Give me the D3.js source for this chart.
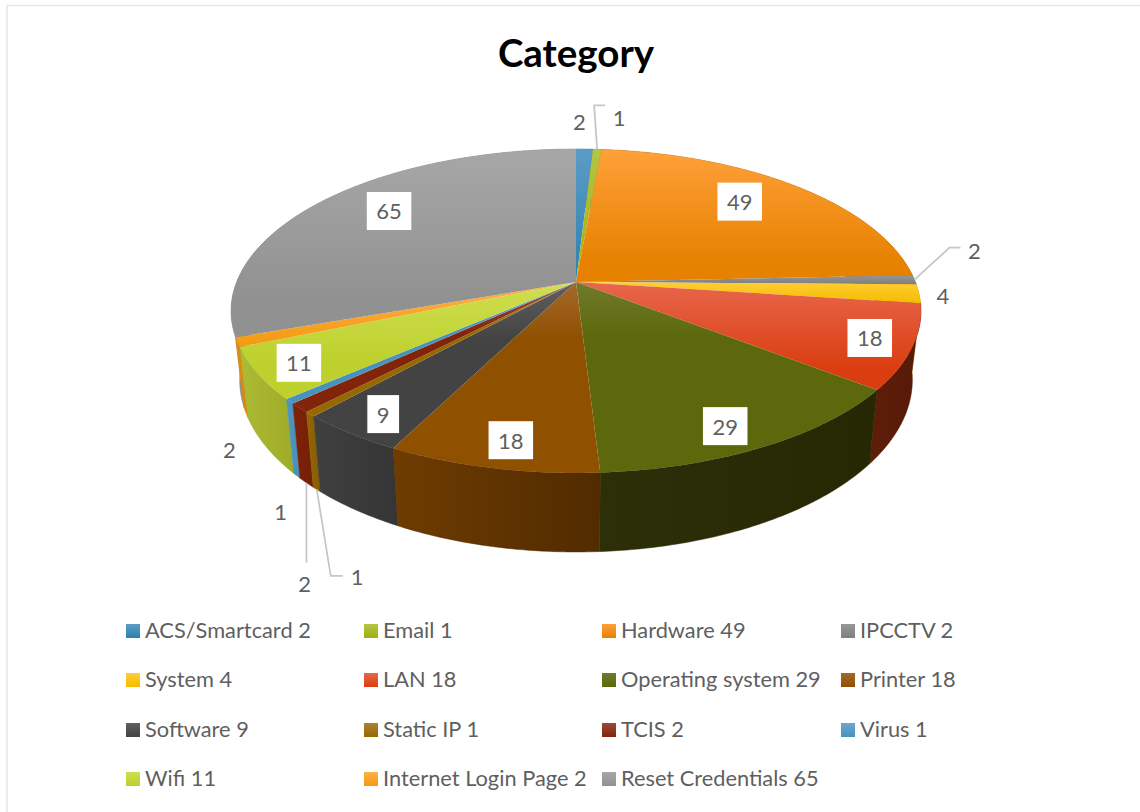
<!DOCTYPE html>
<html lang="en">

<head>
	<meta charset="utf-8">
	<title>Category</title>
	<script src="https://cdnjs.cloudflare.com/ajax/libs/d3/7.8.5/d3.min.js"></script>
	<style>
		html, body { margin: 0; padding: 0; background: #fff; }
		text { font-family: Lato, "Open Sans", sans-serif; fill: #5f5f5f; }
	</style>
</head>

<body>
	<svg id="chart" width="1140" height="812" style="display:block"></svg>
	<script>
		const categories = ["ACS/Smartcard", "Email", "Hardware", "IPCCTV", "System", "LAN", "Operating system", "Printer",
			"Software", "Static IP", "TCIS", "Virus", "Wifi", "Internet Login Page", "Reset Credentials"];
		const counts = [2, 1, 49, 2, 4, 18, 29, 18, 9, 1, 2, 1, 11, 2, 65];

		// top face gradient, light to base
		const faceLight = ["#5a9cc5", "#b4c444", "#ffa03a", "#979797", "#ffcd33", "#e8674c", "#707a2c", "#a6682c",
			"#606060", "#ab8232", "#9c4c3a", "#6aa9d0", "#cfdf50", "#ffb048", "#a7a7a7"];
		const faceBase = ["#2f80b0", "#9fb016", "#e68200", "#7e7e7e", "#f4bc00", "#da3e10", "#5c680b", "#8f5100",
			"#434343", "#966800", "#82240a", "#4892be", "#bdd02c", "#f29a10", "#919191"];
		// how far down each face the gradient has reached its base colour
		const faceStop = [1, 1, 0.85, 1, 1, 0.8, 0.3, 0.3, 0.35, 0.4, 0.4, 0.4, 0.7, 1, 0.8];
		// side wall, left to right
		const wallLeft = ["#2b7099", "#8f9c1c", "#b96a00", "#666666", "#c49800", "#5e1d09", "#2c2f08", "#6e3c00",
			"#404040", "#946700", "#7e2208", "#4f97c0", "#acba36", "#e58d10", "#8c8c8c"];
		const wallRight = ["#2b7099", "#8f9c1c", "#b96a00", "#666666", "#c49800", "#561a07", "#262804", "#512b00",
			"#353535", "#855c00", "#761f07", "#4a90b8", "#a0ac28", "#d98508", "#848484"];

		// label placing: radius fraction and angle shift (degrees) for inside labels, offset from the rim for outside ones
		const insideRadius = { 2: 0.775, 5: 0.88, 6: 0.875, 7: 0.87, 8: 0.883, 12: 0.884, 14: 0.776 };
		const insideShift = { 2: -3, 5: -0.3, 6: 2.2, 7: -1, 8: -0.5, 12: -0.3, 14: 4.1 };
		const outsideOffset = { 0: [-5, -28], 1: [22, -32], 3: [60, -29], 4: [24, 2], 9: [47, 162], 10: [5, 176], 11: [-9, 110], 13: [-8, 107] };
		const leaderBends = {
			1: { rim: "top", bends: [[-3, -44], [8, -44]] },
			3: { rim: "top", bends: [[35, -32], [46, -32]] },
			9: { rim: "bottom", bends: [[14, 86.5], [26, 86.5]] },
			10: { rim: "bottom", bends: [[0, 80]] }
		};

		const legendX = [126, 364, 602, 841];
		const legendY = [631, 680, 730, 779];

		const svg = d3.select("#chart");
		const defs = svg.append("defs");

		// chart frame, runs off the page on the right and bottom
		svg.append("path").attr("d", "M7 812V5.5H1140").attr("fill", "none").attr("stroke", "#e6e6e6").attr("stroke-width", 1.5);

		svg.append("text").attr("x", 576).attr("y", 52).attr("text-anchor", "middle")
			.attr("dominant-baseline", "central").style("font-size", "38.5px").style("font-weight", 700).style("fill", "#000")
			.text("Category");

		// the disc seen in perspective: circle -> ellipse with the apex above its middle
		const cx = 576, apexY = 282, tilt = -0.179, slopeY = 106.3, halfW = 339.4;
		function project(angle, r) {
			const u = -r * Math.cos(angle), v = r * Math.sin(angle);
			const d = 1 + tilt * u;
			return [cx + halfW * v / d, (slopeY * u + apexY) / d];
		}
		// lower rim of the pie
		function drop(p) {
			return [cx + 0.975 * (p[0] - cx), p[1] + 79 + 0.063 * (p[1] - 473)];
		}

		const pie = d3.pie().sort(null).value(d => d.count);
		const slices = pie(categories.map((name, i) => ({ name, count: counts[i], i })));
		const line = d3.line();

		function arcPoints(s) {
			const n = Math.max(3, Math.ceil((s.endAngle - s.startAngle) / 0.01));
			return d3.range(n + 1).map(k => project(s.startAngle + (s.endAngle - s.startAngle) * k / n, 1));
		}

		function gradient(id, x2, y2, c0, c1, stop) {
			const g = defs.append("linearGradient").attr("id", id).attr("x1", 0).attr("y1", 0).attr("x2", x2).attr("y2", y2);
			g.append("stop").attr("offset", 0).attr("stop-color", c0);
			g.append("stop").attr("offset", stop).attr("stop-color", c1);
		}
		categories.forEach((c, i) => {
			gradient("face" + i, 0, 1, faceLight[i], faceBase[i], faceStop[i]);
			gradient("swatch" + i, 0, 1, faceLight[i], faceBase[i], 1);
			gradient("wall" + i, 1, 0, wallLeft[i], wallRight[i], 1);
		});

		// walls back to front, then the top faces
		const midAngle = s => (s.startAngle + s.endAngle) / 2;
		const walls = slices.slice().sort((a, b) => project(midAngle(a), 1)[1] - project(midAngle(b), 1)[1]);
		svg.append("g").selectAll("path").data(walls).enter().append("path")
			.attr("d", s => {
				const rim = arcPoints(s);
				return line(rim.concat(rim.slice().reverse().map(drop))) + "Z";
			})
			.attr("fill", s => `url(#wall${s.data.i})`)
			.attr("stroke", s => wallRight[s.data.i]).attr("stroke-width", 0.5);

		svg.append("g").selectAll("path").data(slices).enter().append("path")
			.attr("d", s => line([project(0, 0)].concat(arcPoints(s))) + "Z")
			.attr("fill", s => `url(#face${s.data.i})`);

		// leader lines
		svg.append("g").selectAll("path").data(slices.filter(s => leaderBends[s.data.i])).enter().append("path")
			.attr("d", s => {
				const info = leaderBends[s.data.i];
				const top = project(midAngle(s), 1);
				const start = info.rim === "bottom" ? drop(top) : top;
				return line([start].concat(info.bends.map(b => [start[0] + b[0], start[1] + b[1]])));
			})
			.attr("fill", "none").attr("stroke", "#c6c6c6").attr("stroke-width", 1.75);

		// value labels
		const labels = svg.append("g");
		slices.forEach(s => {
			const i = s.data.i;
			let pos;
			if (insideRadius[i]) {
				pos = project(midAngle(s) + insideShift[i] * Math.PI / 180, insideRadius[i]);
			} else {
				const rim = project(midAngle(s), 1);
				pos = [rim[0] + outsideOffset[i][0], rim[1] + outsideOffset[i][1]];
			}
			const g = labels.append("g").attr("transform", `translate(${pos[0]},${pos[1]})`);
			const box = g.append("rect");
			const t = g.append("text").attr("text-anchor", "middle").attr("dominant-baseline", "central")
				.style("font-size", "22px").text(s.data.count);
			if (insideRadius[i]) {
				const w = t.node().getComputedTextLength() + 19;
				box.attr("x", -w / 2).attr("y", -19).attr("width", w).attr("height", 38).attr("fill", "#fff");
			}
		});

		// legend, four to a row
		const legend = svg.append("g").selectAll("g").data(slices).enter().append("g")
			.attr("transform", s => `translate(${legendX[s.data.i % 4]},${legendY[Math.floor(s.data.i / 4)]})`);
		legend.append("rect").attr("x", 0).attr("y", -7).attr("width", 14).attr("height", 14)
			.attr("fill", s => `url(#swatch${s.data.i})`);
		legend.append("text").attr("x", 19).attr("y", -1.5).attr("dominant-baseline", "central")
			.style("font-size", "21.8px").text(s => s.data.name + " " + s.data.count);
	</script>
</body>

</html>
